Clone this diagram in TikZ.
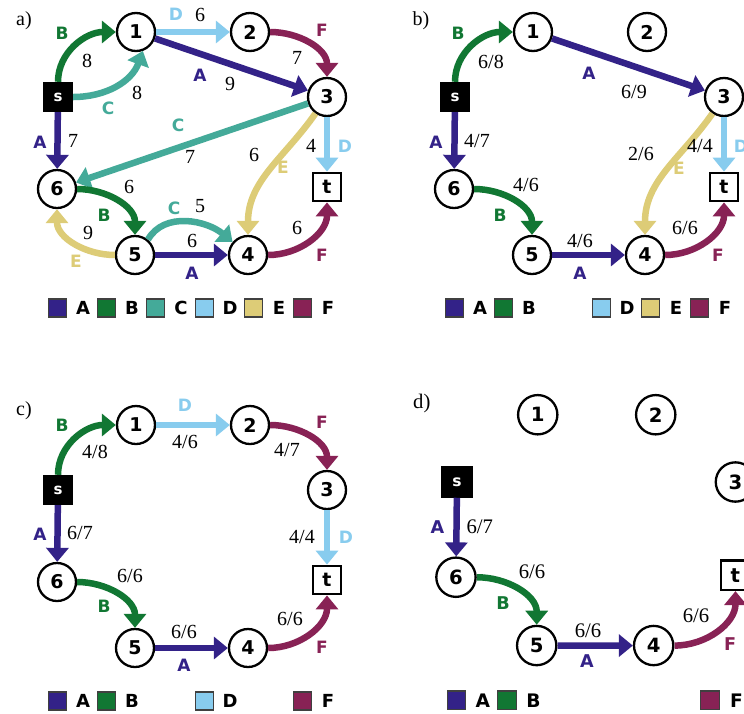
\documentclass[tikz,border=0pt]{standalone}
\usepackage{fontspec}
\newfontfamily\lblfont{DejaVu Sans}
\newfontfamily\capfont{Liberation Serif}
\usetikzlibrary{arrows.meta}

% flow colours, one per path A--F
\definecolor{colA}{HTML}{332288}
\definecolor{colB}{HTML}{117733}
\definecolor{colC}{HTML}{44AA99}
\definecolor{colD}{HTML}{88CCEE}
\definecolor{colE}{HTML}{DDCC77}
\definecolor{colF}{HTML}{882255}

\newcommand\vertexfont{\lblfont\bfseries\fontsize{19}{22}\selectfont}
\newcommand\letterfont{\lblfont\bfseries\fontsize{17}{20}\selectfont}
\newcommand\keyfont{\lblfont\bfseries\fontsize{18}{21}\selectfont}
\newcommand\numfont{\capfont\fontsize{20}{24}\selectfont}

\tikzset{
  vert/.style={circle, draw=black, line width=2.3pt, fill=white, minimum size=38pt,
    inner sep=0pt, font=\vertexfont},
  srcbox/.style={rectangle, fill=black, minimum size=30pt, inner sep=0pt, text=white,
    font=\lblfont\bfseries\fontsize{15}{18}\selectfont},
  sinkbox/.style={rectangle, draw=black, fill=white, line width=2.3pt, minimum size=28.5pt,
    inner sep=0pt, font=\vertexfont},
  flow/.style={line width=6.5pt, -{Triangle[width=22pt,length=14pt]}},
  fA/.style={flow, draw=colA},
  fB/.style={flow, draw=colB},
  fC/.style={flow, draw=colC},
  fD/.style={flow, draw=colD},
  fE/.style={flow, draw=colE},
  fF/.style={flow, draw=colF},
  numlbl/.style={font=\numfont, inner sep=0pt, text height=13pt, text depth=0pt},
  letlbl/.style={font=\letterfont, inner sep=0pt, text height=12.4pt, text depth=0pt},
  lA/.style={letlbl, text=colA},
  lB/.style={letlbl, text=colB},
  lC/.style={letlbl, text=colC},
  lD/.style={letlbl, text=colD},
  lE/.style={letlbl, text=colE},
  lF/.style={letlbl, text=colF},
  keysq/.style={rectangle, minimum size=18pt, inner sep=0pt, draw=black!75, line width=1.2pt},
  keytxt/.style={font=\keyfont, inner sep=0pt, text height=13.1pt, text depth=0pt},
  panellbl/.style={font=\numfont, inner sep=0pt}
}

% the eight vertices of the network, names prefixed by #1
\newcommand\vertices[1]{%
  \node[srcbox]  (#1s) at (58,-97)   {s};
  \node[vert]    (#11) at (136,-32)  {1};
  \node[vert]    (#12) at (250,-32)  {2};
  \node[vert]    (#13) at (327,-97)  {3};
  \node[vert]    (#16) at (57,-189)  {6};
  \node[vert]    (#15) at (135,-255) {5};
  \node[vert]    (#14) at (248,-255) {4};
  \node[sinkbox] (#1t) at (327,-187) {t};
}
% one legend entry: name, x, colour, letter
\newcommand\keyitem[4]{%
  \node[keysq, fill=#3] (#1sq) at (#2,-308) {};
  \node[keytxt] (#1txt) at (#2+25.5,-308) {#4};
}

\begin{document}
\begin{tikzpicture}[x=1pt, y=1pt]
\useasboundingbox (0,0) rectangle (744,-713);
\fill[white] (0,0) rectangle (744,-713);
\clip (0,0) rectangle (744,-713);

% ---------------- a) capacities ----------------
\begin{scope}
  \node[panellbl] (alab) at (24,-21) {a)};
  \vertices{a}
  \draw[fB] (as.north) to[out=90,in=180] (a1.west);
  \draw[fC] (as.east) to[out=0,in=-110] (a1.-70);
  \draw[fD] (a1) -- (a2);
  \draw[fF] (a2.east) to[out=0,in=90] (a3.north);
  \draw[fA] (a1) -- (a3);
  \draw[fC] (a3) -- (a6);
  \draw[fE] (a3.-125) to[out=-125,in=90] (a4.north);
  \draw[fD] (a3) -- (at);
  \draw[fA] (as) -- (a6);
  \draw[fB] (a6.east) to[out=0,in=90] (a5.north);
  \draw[fE] (a5.west) to[out=180,in=-90] (a6.south);
  \draw[fC] (a5.50) to[out=60,in=140] (a4.140);
  \draw[fA] (a5) -- (a4);
  \draw[fF] (a4.east) to[out=0,in=-90] (at.south);
  \node[lB] (aB1) at (62,-33) {B};
  \node[numlbl] (ac1) at (87,-61) {8};
  \node[lC] (aC1) at (108,-108) {C};
  \node[numlbl] (ac2) at (137,-93) {8};
  \node[lD] (aD1) at (176,-14) {D};
  \node[numlbl] (ac3) at (200,-15) {6};
  \node[lF] (aF1) at (322,-30) {F};
  \node[numlbl] (ac4) at (297,-58) {7};
  \node[lA] (aA1) at (200,-75) {A};
  \node[numlbl] (ac5) at (230,-84) {9};
  \node[lC] (aC2) at (178,-125) {C};
  \node[numlbl] (ac6) at (190,-157) {7};
  \node[lA] (aA2) at (40,-142) {A};
  \node[numlbl] (ac7) at (73,-141) {7};
  \node[numlbl] (ac8) at (254,-155) {6};
  \node[lE] (aE1) at (283,-167) {E};
  \node[numlbl] (ac9) at (311,-146) {4};
  \node[lD] (aD2) at (345,-146) {D};
  \node[numlbl] (ac10) at (129,-187) {6};
  \node[lB] (aB2) at (104,-215) {B};
  \node[numlbl] (ac11) at (88,-233) {9};
  \node[lE] (aE2) at (76,-261) {E};
  \node[lC] (aC3) at (174,-208) {C};
  \node[numlbl] (ac12) at (200,-206) {5};
  \node[numlbl] (ac13) at (192,-241) {6};
  \node[lA] (aA3) at (192,-273) {A};
  \node[numlbl] (ac14) at (297,-228) {6};
  \node[lF] (aF2) at (322,-255) {F};
  \keyitem{akA}{57.5}{colA}{A}
  \keyitem{akB}{106.5}{colB}{B}
  \keyitem{akC}{155.5}{colC}{C}
  \keyitem{akD}{204.5}{colD}{D}
  \keyitem{akE}{253.5}{colE}{E}
  \keyitem{akF}{302.5}{colF}{F}
\end{scope}

% ---------------- b) ----------------
\begin{scope}[shift={(397,0)}]
  \node[panellbl] (blab) at (24,-21) {b)};
  \vertices{b}
  \draw[fB] (bs.north) to[out=90,in=180] (b1.west);
  \draw[fA] (b1) -- (b3);
  \draw[fA] (bs) -- (b6);
  \draw[fE] (b3.-125) to[out=-125,in=90] (b4.north);
  \draw[fD] (b3) -- (bt);
  \draw[fB] (b6.east) to[out=0,in=90] (b5.north);
  \draw[fA] (b5) -- (b4);
  \draw[fF] (b4.east) to[out=0,in=-90] (bt.south);
  \node[lB] (bB1) at (61,-33) {B};
  \node[numlbl] (bc1) at (94,-62) {6/8};
  \node[lA] (bA1) at (192,-73) {A};
  \node[numlbl] (bc2) at (237,-92) {6/9};
  \node[lA] (bA2) at (39,-142) {A};
  \node[numlbl] (bc3) at (80,-141) {4/7};
  \node[numlbl] (bc4) at (244,-154) {2/6};
  \node[lE] (bE1) at (282,-168) {E};
  \node[numlbl] (bc5) at (303,-146) {4/4};
  \node[lD] (bD1) at (344,-146) {D};
  \node[numlbl] (bc6) at (129,-185) {4/6};
  \node[lB] (bB2) at (103,-215) {B};
  \node[numlbl] (bc7) at (183,-241) {4/6};
  \node[lA] (bA3) at (183,-273) {A};
  \node[numlbl] (bc8) at (288,-228) {6/6};
  \node[lF] (bF1) at (321,-255) {F};
  \keyitem{bkA}{57.5}{colA}{A}
  \keyitem{bkB}{106.5}{colB}{B}
  \keyitem{bkD}{204.5}{colD}{D}
  \keyitem{bkE}{253.5}{colE}{E}
  \keyitem{bkF}{302.5}{colF}{F}
\end{scope}

% ---------------- c) ----------------
\begin{scope}[shift={(0,-393)}]
  \node[panellbl] (clab) at (24,-18) {c)};
  \vertices{c}
  \draw[fB] (cs.north) to[out=90,in=180] (c1.west);
  \draw[fD] (c1) -- (c2);
  \draw[fF] (c2.east) to[out=0,in=90] (c3.north);
  \draw[fA] (cs) -- (c6);
  \draw[fD] (c3) -- (ct);
  \draw[fB] (c6.east) to[out=0,in=90] (c5.north);
  \draw[fA] (c5) -- (c4);
  \draw[fF] (c4.east) to[out=0,in=-90] (ct.south);
  \node[lB] (cB1) at (62,-32) {B};
  \node[numlbl] (cc1) at (95,-59) {4/8};
  \node[lD] (cD1) at (185,-12) {D};
  \node[numlbl] (cc2) at (185,-49) {4/6};
  \node[lF] (cF1) at (322,-29) {F};
  \node[numlbl] (cc3) at (287,-57) {4/7};
  \node[lA] (cA1) at (40,-141) {A};
  \node[numlbl] (cc4) at (80,-140) {6/7};
  \node[numlbl] (cc5) at (302,-144) {4/4};
  \node[lD] (cD2) at (346,-144) {D};
  \node[numlbl] (cc6) at (130,-183) {6/6};
  \node[lB] (cB2) at (104,-213) {B};
  \node[numlbl] (cc7) at (184,-239) {6/6};
  \node[lA] (cA2) at (184,-272) {A};
  \node[numlbl] (cc8) at (290,-226) {6/6};
  \node[lF] (cF2) at (322,-254) {F};
  \keyitem{ckA}{57.5}{colA}{A}
  \keyitem{ckB}{106.5}{colB}{B}
  \keyitem{ckD}{204.5}{colD}{D}
  \keyitem{ckF}{302.5}{colF}{F}
\end{scope}

% ---------------- d) ----------------
\begin{scope}[shift={(396.97,-381.6)}, scale=1.035, transform shape]
  \node[panellbl] (dlab) at (24,-21) {d)};
  \vertices{d}
  \draw[fA] (ds) -- (d6);
  \draw[fB] (d6.east) to[out=0,in=90] (d5.north);
  \draw[fA] (d5) -- (d4);
  \draw[fF] (d4.east) to[out=0,in=-90] (dt.south);
  \node[lA] (dA1) at (39,-140.5) {A};
  \node[numlbl] (dc1) at (80,-140.5) {6/7};
  \node[numlbl] (dc2) at (130.5,-184) {6/6};
  \node[lB] (dB1) at (102.4,-214) {B};
  \node[numlbl] (dc3) at (184.6,-241) {6/6};
  \node[lA] (dA2) at (183.6,-270) {A};
  \node[numlbl] (dc4) at (289,-226.5) {6/6};
  \node[lF] (dF1) at (321.8,-253.5) {F};
  \keyitem{dkA}{57.5}{colA}{A}
  \keyitem{dkB}{106.5}{colB}{B}
  \keyitem{dkF}{302.5}{colF}{F}
\end{scope}
\end{tikzpicture}
\end{document}
